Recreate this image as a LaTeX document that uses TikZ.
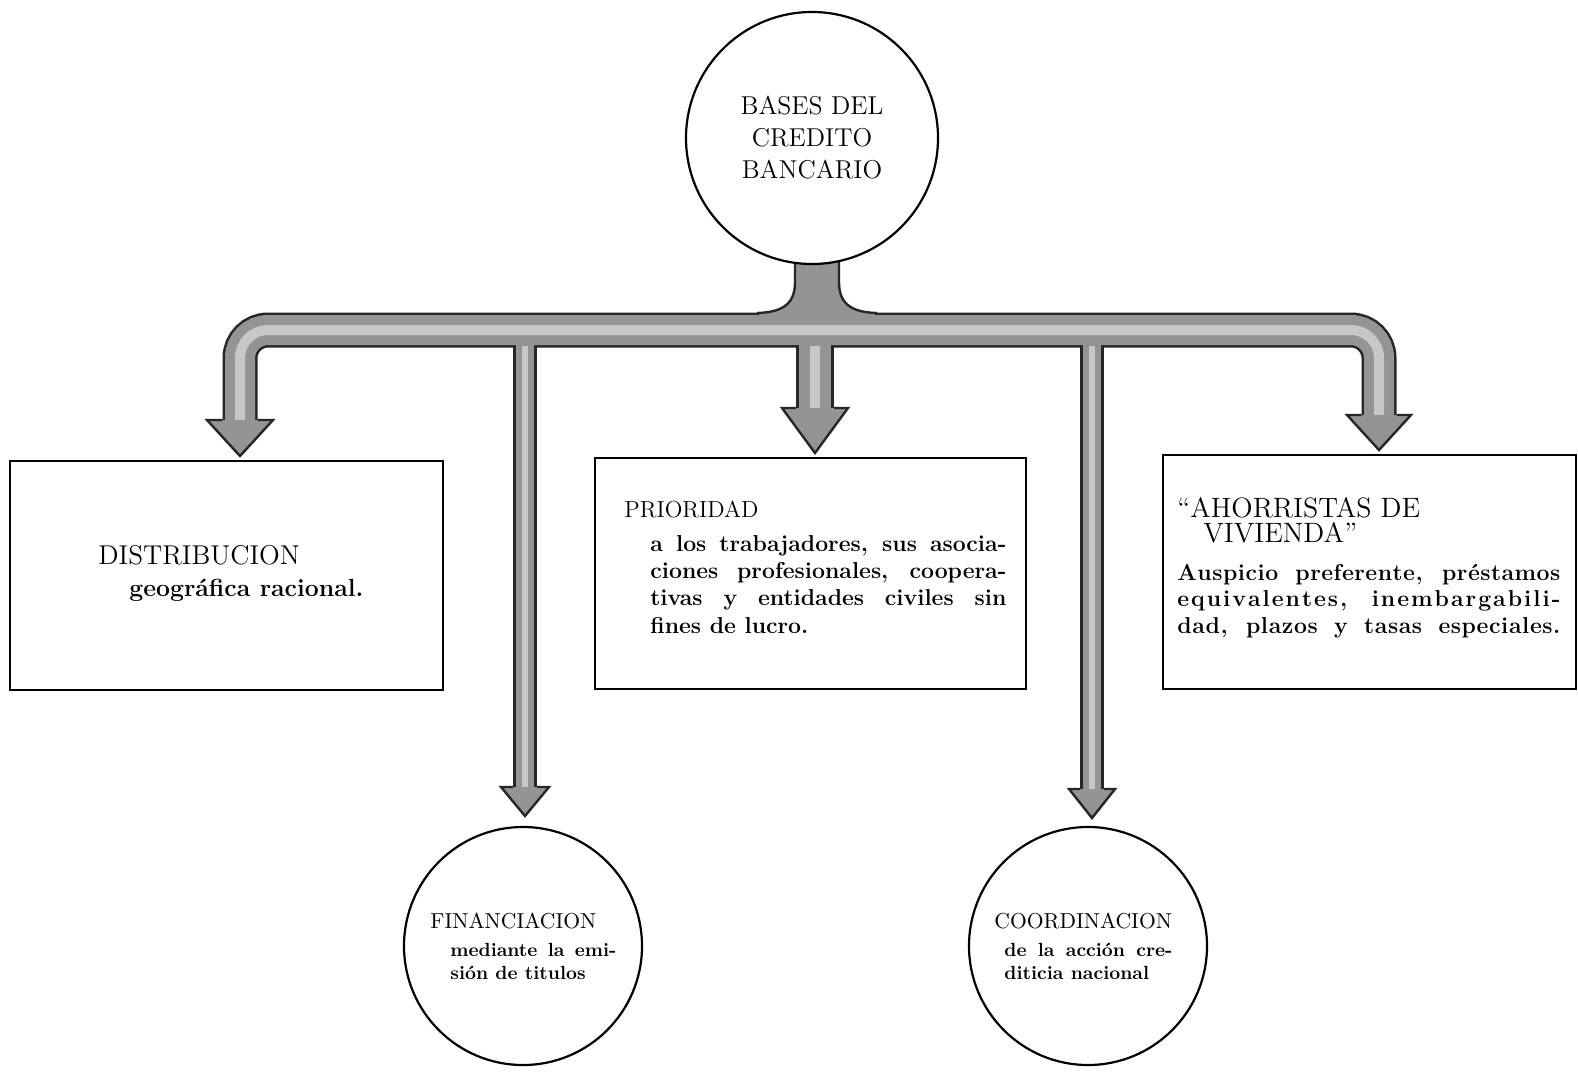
\documentclass[tikz,border=0pt]{standalone}
\makeatletter
\newcommand\spr[2][0.9pt]{\@tfor\sp@c:=#2\do{\sp@c\kern#1}\unkern}
\makeatother
\begin{document}
\begin{tikzpicture}[x=0.5pt,y=-0.5pt,
  box/.style={draw=black, line width=1.2pt, rectangle, inner sep=0pt},
  ring/.style={draw=black, line width=1.1pt, circle, fill=white, inner sep=0pt, minimum size=#1},
  txt/.style={anchor=base west, inner sep=0pt},
  hbig/.style={font=\fontsize{13.6}{16}\selectfont},
  hmid/.style={font=\fontsize{11.6}{14}\selectfont},
  hsmall/.style={font=\fontsize{10.8}{13}\selectfont},
  bbig/.style={font=\bfseries\fontsize{12.4}{15}\selectfont},
  bmid/.style={font=\bfseries\fontsize{11.5}{14}\selectfont},
  bsmall/.style={font=\bfseries\fontsize{9.5}{11}\selectfont},
  edge/.style={draw=black!85},
  tube/.style={black!42},
  shine/.style={black!22}
]
\useasboundingbox (0,0) rectangle (1578,1071);

% named junction and tip coordinates
\coordinate (hL) at (240,421);
\coordinate (hR) at (1379,416);
\coordinate (hC) at (815,409);
\coordinate (hF) at (525,788);
\coordinate (hK) at (1092,790);
\coordinate (jC) at (815,330);
\coordinate (jF) at (525,330);
\coordinate (jK) at (1092,330);

% outline layer
\draw[black!85, line width=17.5pt, rounded corners=14pt] (hL) |- (jC) -| (hR);
\draw[black!85, line width=19pt] (jC) -- (hC);
\draw[black!85, line width=12pt] (jF) -- (hF);
\draw[black!85, line width=12pt] (jK) -- (hK);
% stem from top circle
\filldraw[fill=black!42, draw=black!85, line width=1.2pt]
  (795,250) -- (795,282) .. controls (795,302) and (785,312) .. (758,313)
  -- (758,335) -- (876,335) -- (876,313)
  .. controls (849,312) and (839,302) .. (839,282) -- (839,250) -- cycle;
% fill layer
\draw[tube, line width=15pt, rounded corners=14pt] (hL) |- (jC) -| (hR);
\draw[tube, line width=16pt] (jC) -- (hC);
\draw[tube, line width=9pt] ([yshift=-2pt]jF) -- (hF);
\draw[tube, line width=9pt] ([yshift=-2pt]jK) -- (hK);
\fill[tube] (800,300) rectangle (834,330);
% highlight layer
\draw[shine, line width=5pt, rounded corners=14pt] (hL) |- (jC) -| (hR);
\draw[shine, line width=5pt] ([yshift=-8pt]jC) -- (hC);
\draw[shine, line width=3pt] ([yshift=-8pt]jF) -- (hF);
\draw[shine, line width=3pt] ([yshift=-8pt]jK) -- (hK);

% arrow heads
\newcommand\myhead[5]{%
  \fill[tube] (#1-#4,#2) -- (#1+#4,#2) -- (#1,#3) -- cycle;
  \draw[edge, line width=1.2pt, line join=miter] (#1-#5,#2) -- (#1-#4,#2) -- (#1,#3) -- (#1+#4,#2) -- (#1+#5,#2);}
\myhead{240}{420}{456}{33}{17.5}
\myhead{815}{408}{453}{33}{19}
\myhead{1379}{415}{450}{32}{17.5}
\myhead{525}{787}{816}{24}{12}
\myhead{1092}{789}{818}{23}{12}

% top circle
\node[ring=126pt, align=center, font=\fontsize{12.9}{16}\selectfont] (top) at (812,138)
  {BASES DEL\\CREDITO\\BANCARIO};

% boxes
\node[box, minimum width=216.5pt, minimum height=114.5pt] (boxL) at (226.5,575.5) {};
\node[box, minimum width=215.5pt, minimum height=115.5pt] (boxC) at (810.5,573.5) {};
\node[box, minimum width=206.5pt, minimum height=117pt] (boxR) at (1369.5,572) {};

% bottom circles
\node[ring=119pt] (fin) at (523,946) {};
\node[ring=119pt] (coo) at (1088,946) {};

% texts
\node[txt, hbig] (distT) at (98,564) {DISTRIBUCION};
\node[txt, bbig] (distB) at (129,596) {geográfica racional.};

\node[txt, hmid] (priT) at (624,517) {PRIORIDAD};
\node[txt, bmid] (pri1) at (650,551) {\makebox[178pt][s]{a los trabajadores, sus asocia-}};
\node[txt, bmid] (pri2) at (650,578) {\makebox[178pt][s]{ciones profesionales, coopera-}};
\node[txt, bmid] (pri3) at (650,605) {\makebox[178pt][s]{tivas y entidades civiles sin}};
\node[txt, bmid] (pri4) at (650,633) {fines de lucro.};

\node[txt, font=\fontsize{14}{16}\selectfont] (aho1) at (1177,517) {“AHORRISTAS DE};
\node[txt, font=\fontsize{14}{16}\selectfont] (aho2) at (1203,542) {VIVIENDA”};
\node[txt, bmid] (aho3) at (1177,580) {\makebox[191.5pt][s]{\spr[0.25pt]{Auspicio} \spr[0.25pt]{preferente,} \spr[0.25pt]{préstamos}}};
\node[txt, bmid] (aho4) at (1177,606) {\makebox[191.5pt][s]{\spr[1pt]{equivalentes,} \spr[1pt]{inembargabili-}}};
\node[txt, bmid] (aho5) at (1177,633) {\makebox[191.5pt][s]{\spr[0.3pt]{dad,} \spr[0.3pt]{plazos} y \spr[0.3pt]{tasas} \spr[0.3pt]{especiales.}}};

\node[txt, hsmall] (finT) at (430,928) {FINANCIACION};
\node[txt, bsmall] (fin1) at (450,956) {\makebox[83pt][s]{mediante la emi-}};
\node[txt, bsmall] (fin2) at (450,979) {sión de titulos};

\node[txt, hsmall] (cooT) at (994,928) {COORDINACION};
\node[txt, bsmall] (coo1) at (1004,956) {\makebox[84pt][s]{de la acción cre-}};
\node[txt, bsmall] (coo2) at (1004,979) {diticia nacional};
\end{tikzpicture}
\end{document}
